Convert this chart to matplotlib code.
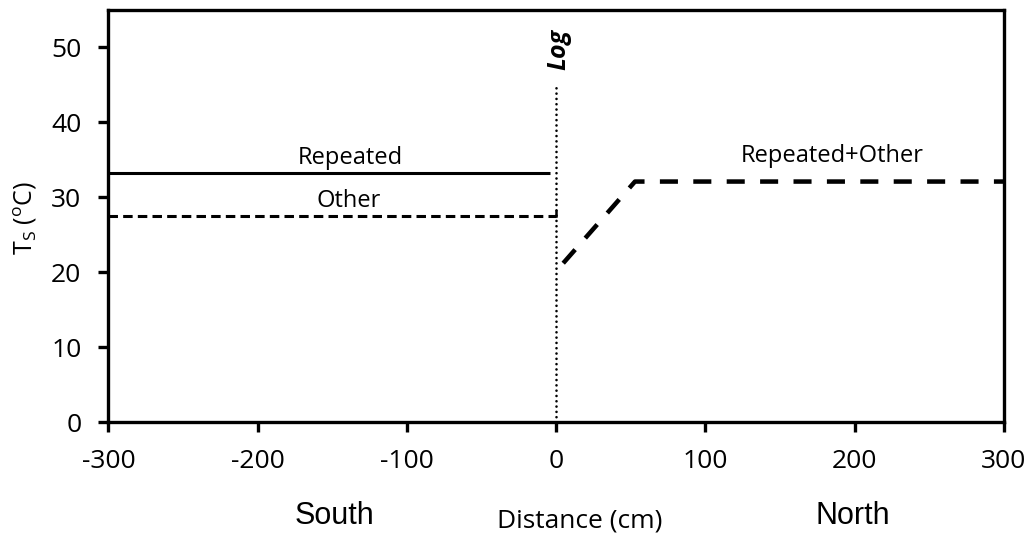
import matplotlib
matplotlib.use("Agg")
import matplotlib.pyplot as plt

plt.rcParams["axes.unicode_minus"] = False

# data
repeated_x = [-300, -4]
repeated_y = [33.2, 33.2]
other_x = [-300, 0]
other_y = [27.5, 27.5]
north_x = [4.7, 52.8, 300]
north_y = [21.2, 32.1, 32.1]
log_x = [0, 0]
log_y = [0, 44.7]
xticks = [-300, -200, -100, 0, 100, 200, 300]
yticks = [0, 10, 20, 30, 40, 50]

calib = ["Open Sans", "DejaVu Sans"]
arial = ["Liberation Sans", "DejaVu Sans"]

fig = plt.figure(figsize=(10.32, 5.38), dpi=100)
ax = fig.add_axes([0.1051, 0.2156, 0.8677, 0.7658])

ax.plot(repeated_x, repeated_y, color="black", lw=2.2, solid_capstyle="butt")
ax.plot(other_x, other_y, color="black", lw=2.2, dashes=(3.1, 1.7))
ax.plot([0, 0], [27.5, 28.2], color="black", lw=1.8)
ax.plot(north_x, north_y, color="black", lw=3.25, dashes=(4.0, 3.4))
ax.plot(log_x, log_y, color="black", lw=1.9, linestyle=(0, (0.01, 2.0)),
        dash_capstyle="round")

ax.set_xlim(-300, 300)
ax.set_ylim(0, 55)
ax.set_xticks(xticks)
ax.set_yticks(yticks)
ax.tick_params(direction="out", length=7, width=2.4, labelsize=19, pad=12.5)
for lab in ax.get_xticklabels() + ax.get_yticklabels():
    lab.set_family(calib)
for s in ax.spines.values():
    s.set_linewidth(2.4)

ax.text(-138, 35.2, "Repeated", ha="center", va="center", fontsize=17, family=calib)
ax.text(-139, 29.5, "Other", ha="center", va="center", fontsize=17, family=calib)
ax.text(185, 35.5, "Repeated+Other", ha="center", va="center", fontsize=17, family=calib)
ax.text(2, 49.8, "Log", ha="center", va="center", fontsize=18, rotation=90,
        fontweight="bold", fontstyle="italic", family=calib)

fig.text(25 / 1032, 1 - 218 / 538, r"T$_\mathregular{S}$ ($^\mathregular{o}$C)",
         rotation=90, ha="center", va="center", fontsize=18, family=calib)
fig.text(334 / 1032, 14 / 538, "South", ha="center", va="baseline", fontsize=22, family=arial)
fig.text(853 / 1032, 14 / 538, "North", ha="center", va="baseline", fontsize=22, family=arial)
fig.text(580 / 1032, 11 / 538, "Distance (cm)", ha="center", va="baseline", fontsize=19, family=calib)

fig.savefig("out.png", dpi=100)
